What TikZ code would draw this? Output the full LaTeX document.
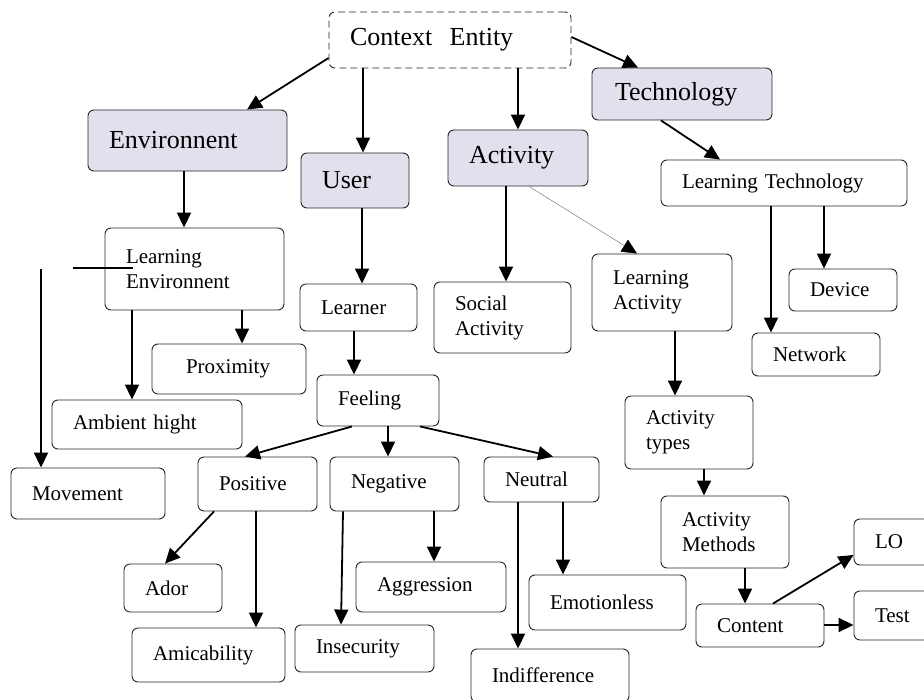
\documentclass[tikz,border=0pt]{standalone}
\usepackage{fontspec}
\setmainfont{Liberation Serif}
\usepackage{tikz}
\usetikzlibrary{arrows.meta}

\definecolor{entfill}{RGB}{228,223,236}

\begin{document}
\begin{tikzpicture}[x=1pt, y=-1pt,
  sub/.style={draw=black!85, line width=0.9pt, rounded corners=6pt, align=left,
    inner xsep=21pt, inner ysep=0pt, font=\fontsize{21}{25}\selectfont},
  ent/.style={sub, fill=entfill, font=\fontsize{26}{30}\selectfont},
  arr/.style={-{Triangle[length=15pt,width=14pt,color=black]}, line width=1.8pt}]
\clip (0,0) rectangle (924,700);

% context entities
\node[sub, dashed, dash pattern=on 7pt off 4pt, font=\fontsize{26}{30}\selectfont,
  text width=200, minimum height=56] (ce) at (450,40) {Context~~Entity};
\node[ent, text width=157, minimum height=61] (env) at (187.5,140.5) {Environnent};
\node[ent, text width=66, minimum height=55] (usr) at (355,180.5) {User};
\node[ent, text width=98, minimum height=56] (act) at (518,158) {Activity};
\node[ent, inner xsep=23pt, text width=134, minimum height=52] (tech) at (682,94) {Technology};

% environment
\node[sub, text width=137, minimum height=82] (lenv) at (194.5,269) {Learning\\Environnent};
\node[sub, inner xsep=34pt, text width=86, minimum height=50] (prox) at (229,369) {Proximity};
\node[sub, text width=148, minimum height=49] (amb) at (147,424.5) {Ambient hight};
\node[sub, text width=112, minimum height=51] (mov) at (88,493.5) {Movement};

% user
\node[sub, text width=75, minimum height=47] (lrn) at (358.5,307.5) {Learner};
\node[sub, text width=80, minimum height=51] (feel) at (378,400.5) {Feeling};
\node[sub, text width=77, minimum height=54] (pos) at (257.5,484) {Positive};
\node[sub, text width=87, minimum height=54] (neg) at (394.5,484) {Negative};
\node[sub, text width=73, minimum height=45] (neu) at (541.5,479.5) {Neutral};
\node[sub, text width=56, minimum height=48] (ador) at (173,588) {Ador};
\node[sub, text width=111, minimum height=54] (ami) at (208.5,655) {Amicability};
\node[sub, text width=97, minimum height=47] (insec) at (364.5,648.5) {Insecurity};
\node[sub, text width=108, minimum height=50] (aggr) at (431,587) {Aggression};
\node[sub, text width=115, minimum height=55] (emo) at (607.5,602.5) {Emotionless};
\node[sub, text width=116, minimum height=53] (ind) at (550,675.5) {Indifference};

% activity
\node[sub, text width=95, minimum height=71] (soc) at (502.5,317.5) {Social\\Activity};
\node[sub, text width=98, minimum height=77] (lact) at (662,292.5) {Learning\\Activity};
\node[sub, text width=86, minimum height=73] (atyp) at (689,432.5) {Activity\\types};
\node[sub, text width=86, minimum height=72] (ameth) at (725,532) {Activity\\Methods};
\node[sub, text width=86, minimum height=43] (cont) at (760,625.5) {Content};
\node[sub, text width=48, minimum height=46] (lo) at (899,542) {LO};
\node[sub, text width=48, minimum height=49] (tst) at (899,615.5) {Test};

% technology
\node[sub, text width=204, minimum height=46] (ltech) at (784,183) {Learning Technology};
\node[sub, text width=66, minimum height=42] (dev) at (843,290) {Device};
\node[sub, text width=86, minimum height=43] (net) at (816,354.5) {Network};

% links
\draw[arr] (ce.west |- 0,58) -- (env.north -| 247,0);
\draw[arr] (ce.south -| 363,0) -- (usr.north -| 363,0);
\draw[arr] (ce.south -| 518,0) -- (act.north -| 518,0);
\draw[arr] (ce.east |- 0,37) -- (tech.north -| 638,0);

\draw[arr] (env.south -| 184,0) -- (lenv.north -| 184,0);
\draw[arr] (lenv.south -| 132,0) -- (amb.north -| 132,0);
\draw[arr] (lenv.south -| 242,0) -- (prox.north -| 242,0);
\coordinate (m0) at (41,269);
\draw[arr] (m0) -- (mov.north -| m0);
\coordinate (h0) at (73,268);
\coordinate (h1) at (133,268);
\draw[line width=1.5pt] (h0) -- (h1);

\draw[arr] (usr.south -| 362,0) -- (lrn.north -| 362,0);
\draw[arr] (lrn.south -| 354,0) -- (feel.north -| 354,0);
\draw[arr] (feel.south -| 352,0) -- (pos.north -| 245,0);
\draw[arr] (feel.south -| 388,0) -- (neg.north -| 388,0);
\draw[arr] (feel.south -| 420,0) -- (neu.north -| 553,0);
\draw[arr] (pos.south -| 214,0) -- (ador.north -| 165,0);
\draw[arr] (pos.south -| 256,0) -- (ami.north -| 256,0);
\draw[arr] (neg.south -| 343,0) -- (insec.north -| 341,0);
\draw[arr] (neg.south -| 434,0) -- (aggr.north -| 434,0);
\draw[arr] (neu.south -| 518,0) -- (ind.north -| 518,0);
\draw[arr] (neu.south -| 563,0) -- (emo.north -| 563,0);

\draw[arr] (act.south -| 506,0) -- (soc.north -| 506,0);
\draw[arr, line width=0.4pt, draw=black!60] (act.south -| 529,0) -- (lact.north -| 637,0);
\draw[arr] (lact.south -| 675,0) -- (atyp.north -| 675,0);
\draw[arr] (atyp.south -| 704,0) -- (ameth.north -| 704,0);
\draw[arr] (ameth.south -| 745,0) -- (cont.north -| 745,0);
\draw[arr] (cont.north -| 773,0) -- (lo.west |- 0,555);
\draw[arr] (cont.east |- 0,625) -- (tst.west |- 0,625);

\draw[arr] (tech.south -| 661,0) -- (ltech.north -| 720,0);
\draw[arr] (ltech.south -| 771,0) -- (net.north -| 771,0);
\draw[arr] (ltech.south -| 824,0) -- (dev.north -| 824,0);
\end{tikzpicture}
\end{document}
